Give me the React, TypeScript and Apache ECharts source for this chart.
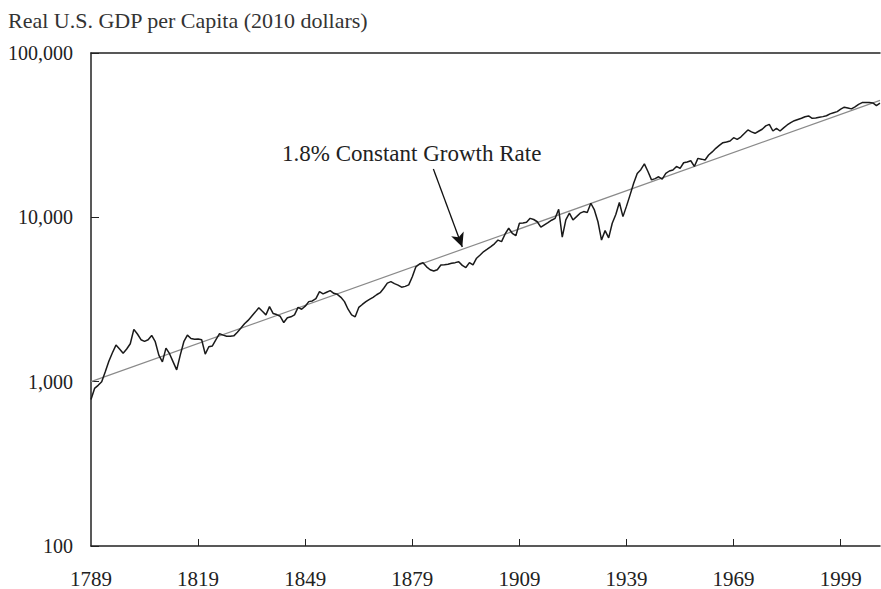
import React, { useEffect, useRef } from "react";
import * as echarts from "echarts";

const years: number[] = [];
for (let y = 1789; y <= 2010; y++) years.push(y);

const gdpPerCapita = [
  780, 910, 950, 1000, 1150, 1330, 1500, 1670, 1580, 1490, 1580, // 1789-1799
  1700, 2080, 1950, 1800, 1760, 1800, 1910, 1750, 1450, 1320, // 1800-1809
  1600, 1480, 1320, 1180, 1450, 1750, 1920, 1830, 1810, 1820, // 1810-1819
  1800, 1470, 1630, 1650, 1800, 1960, 1920, 1890, 1890, 1900, // 1820-1829
  2000, 2120, 2250, 2360, 2500, 2650, 2820, 2680, 2550, 2860, // 1830-1839
  2600, 2560, 2500, 2290, 2450, 2480, 2550, 2830, 2760, 2880, // 1840-1849
  3070, 3100, 3200, 3530, 3420, 3500, 3580, 3450, 3400, 3260, // 1850-1859
  3070, 2760, 2550, 2480, 2830, 2950, 3070, 3170, 3260, 3380, // 1860-1869
  3480, 3700, 3980, 4060, 3950, 3870, 3760, 3800, 3880, 4350, // 1870-1879
  5000, 5200, 5300, 5000, 4800, 4710, 4800, 5130, 5150, 5180, // 1880-1889
  5250, 5300, 5370, 5100, 4950, 5300, 5130, 5640, 5900, 6190, // 1890-1899
  6400, 6630, 6900, 7270, 7110, 7920, 8580, 8000, 7730, 9200, // 1900-1909
  9250, 9330, 9860, 9700, 9400, 8710, 9000, 9290, 9600, 9860, // 1910-1919
  11200, 7570, 9640, 10600, 9640, 10100, 10600, 10840, 10700, 12180, // 1920-1929
  11090, 9400, 7270, 8300, 7500, 9200, 10400, 12300, 10100, 11700, // 1930-1939
  13700, 16100, 18500, 19500, 21130, 19000, 16900, 17200, 17650, 17100, // 1940-1949
  18500, 19140, 19400, 20400, 19860, 21490, 21700, 22100, 20400, 22840, // 1950-1959
  22600, 22350, 23940, 25000, 26300, 27400, 28460, 28700, 29150, 30530, // 1960-1969
  29830, 30800, 32400, 34020, 33100, 32460, 33400, 34350, 36000, 36800, // 1970-1979
  33520, 34790, 33520, 35000, 36480, 37700, 38730, 39400, 40060, 40900, // 1980-1989
  41370, 40060, 40200, 40600, 41000, 41500, 42620, 43300, 43980, 45500, // 1990-1999
  46800, 46300, 45700, 47000, 48700, 49900, 49900, 49900, 49700, 47900, // 2000-2009
  49500, // 2010
];

const trendYears = [1789, 2010];
const trendValues = [1000, 51500];

const labelYears = [1789, 1819, 1849, 1879, 1909, 1939, 1969, 1999];
const tickYears = [1819, 1849, 1879, 1909, 1939, 1969, 1999];

const arrowFrom = [1884.9, 19700];
const arrowTo = [1893, 6600];

const titleText = "Real U.S. GDP per Capita (2010 dollars)";
const annotationText = "1.8% Constant Growth Rate";

const FONT = '"Liberation Serif", "Times New Roman", serif';

export default function App() {
  const ref = useRef<HTMLDivElement>(null);
  useEffect(() => {
    if (!ref.current) return;
    const chart = echarts.init(ref.current, null, { renderer: "svg" });
    const seriesData = years.map((y, i) => [y, gdpPerCapita[i]]);
    const trendData = trendYears.map((y, i) => [y, trendValues[i]]);
    chart.setOption({
      animation: false,
      backgroundColor: "#ffffff",
      title: {
        text: titleText,
        left: 3,
        top: 4,
        textStyle: { fontFamily: FONT, fontSize: 22, fontWeight: "normal", color: "#333" },
      },
      grid: { left: 91, right: 1, top: 53, bottom: 43, containLabel: false },
      xAxis: [
        {
          type: "value",
          min: 1789,
          max: 2010,
          position: "bottom",
          axisLine: { show: true, lineStyle: { color: "#222", width: 1.5 } },
          axisTick: { show: true, inside: true, length: 7, customValues: tickYears, lineStyle: { color: "#222", width: 1 } },
          axisLabel: {
            customValues: labelYears,
            margin: 22,
            fontFamily: FONT,
            fontSize: 21,
            color: "#222",
            formatter: (v: number) => String(Math.round(v)),
          },
          splitLine: { show: false },
        },
        {
          type: "value",
          min: 1789,
          max: 2010,
          position: "top",
          axisLine: { show: true, lineStyle: { color: "#222", width: 1.5 } },
          axisTick: { show: false },
          axisLabel: { show: false },
          splitLine: { show: false },
        },
      ],
      yAxis: {
        type: "log",
        logBase: 10,
        min: 100,
        max: 100000,
        axisLine: { show: true, lineStyle: { color: "#222", width: 1.5 } },
        axisTick: { show: true, inside: true, length: 8, lineStyle: { color: "#222", width: 1 } },
        axisLabel: {
          margin: 18,
          fontFamily: FONT,
          fontSize: 20,
          color: "#222",
          formatter: (v: number) => Math.round(v).toLocaleString("en-US"),
        },
        splitLine: { show: false },
      },
      series: [
        {
          type: "line",
          name: "trend",
          data: trendData,
          showSymbol: false,
          lineStyle: { color: "#8a8a8a", width: 1.2 },
          z: 2,
          markLine: {
            silent: true,
            symbol: ["none", "arrow"],
            symbolSize: [10, 14],
            lineStyle: { color: "#111", width: 1.3, type: "solid" },
            label: { show: false },
            data: [[{ coord: arrowFrom }, { coord: arrowTo }]],
          },
        },
        {
          type: "line",
          name: "gdp",
          data: seriesData,
          showSymbol: false,
          lineStyle: { color: "#1a1a1a", width: 1.5 },
          z: 3,
        },
      ],
      graphic: [
        {
          type: "text",
          left: 282,
          top: 142,
          style: { text: annotationText, font: `23px ${FONT}`, fill: "#222" },
        },
      ],
    });
    return () => chart.dispose();
  }, []);
  return (
    <div
      ref={ref}
      style={{ position: "absolute", left: 0, top: 0, width: 881, height: 589 }}
    />
  );
}
